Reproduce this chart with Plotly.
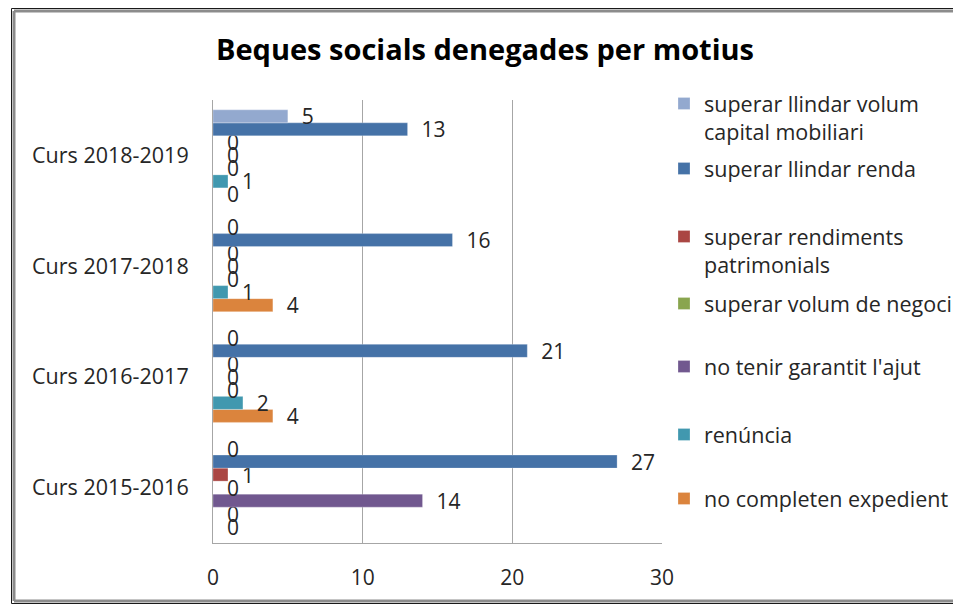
import plotly.graph_objects as go

categories = ["Curs 2015-2016", "Curs 2016-2017", "Curs 2017-2018", "Curs 2018-2019"]
series_names = [
    "superar llindar volum<br>capital mobiliari",
    "superar llindar renda",
    "superar rendiments<br>patrimonials",
    "superar volum de negoci",
    "no tenir garantit l'ajut",
    "renúncia",
    "no completen expedient",
]
capital_mobiliari = [0, 0, 0, 5]
llindar_renda = [27, 21, 16, 13]
rendiments_patrimonials = [1, 0, 0, 0]
volum_negoci = [0, 0, 0, 0]
garantit_ajut = [14, 0, 0, 0]
renuncia = [0, 2, 1, 1]
no_completen = [0, 4, 4, 0]
series_values = [capital_mobiliari, llindar_renda, rendiments_patrimonials,
                 volum_negoci, garantit_ajut, renuncia, no_completen]
colors = ["#93A9CF", "#4572A7", "#AA4643", "#89A54E", "#71588F", "#4198AF", "#DB843D"]
x_ticks = [0, 10, 20, 30]

FONT = "Open Sans"
W, H = 953, 604
L, R, T, B = 213, 662, 100, 543
pw, ph = R - L, B - T

def px_x(x):  # pixel -> paper x
    return (x - L) / pw

def px_y(y):  # pixel -> paper y
    return (B - y) / ph

legend_tops = [103, 168, 236, 303, 366, 434, 498]

fig = go.Figure()
for i in reversed(range(len(series_names))):
    lg = "legend" if i == 0 else f"legend{i+1}"
    fig.add_trace(go.Bar(
        y=categories, x=series_values[i], orientation="h",
        name=series_names[i],
        marker=dict(color=colors[i], line=dict(color="rgba(255,255,255,0.5)", width=0.5)),
        text=series_values[i],
        texttemplate="\u00a0\u00a0%{x}",
        textposition="outside", cliponaxis=False, constraintext="none",
        textfont=dict(family=FONT, size=21, color="#262626"),
        legend=lg,
    ))

layout_legends = {}
for i, ytop in enumerate(legend_tops):
    key = "legend" if i == 0 else f"legend{i+1}"
    layout_legends[key] = dict(
        x=px_x(664), y=px_y(ytop - 20), xanchor="left", yanchor="top",
        font=dict(family=FONT, size=21.5, color="#262626"),
        bgcolor="rgba(0,0,0,0)", valign="top", tracegroupgap=0,
    )

fig.update_layout(
    width=W, height=H,
    margin=dict(l=L, r=W - R, t=T, b=H - B, autoexpand=False),
    paper_bgcolor="white", plot_bgcolor="white",
    barmode="group", bargap=0.178, bargroupgap=0,
    title=dict(text="<b>Beques socials denegades per motius</b>",
               xref="container", x=485 / W, xanchor="center",
               yref="container", y=1 - 50 / H, yanchor="middle",
               font=dict(family=FONT, size=29, color="black")),
    xaxis=dict(range=[0, 30], tickvals=x_ticks, showgrid=True, gridcolor="#A6A6A6",
               gridwidth=1, zeroline=False, showline=True, linecolor="#A6A6A6",
               ticks="", ticklen=0, ticklabelstandoff=16,
               tickfont=dict(family=FONT, size=21, color="#262626"),
               fixedrange=True),
    yaxis=dict(type="category", categoryorder="array", categoryarray=categories,
               showgrid=False, zeroline=False, showline=True, linecolor="#A6A6A6",
               ticks="", ticklabelstandoff=19,
               tickfont=dict(family=FONT, size=21.5, color="#262626"),
               fixedrange=True),
    showlegend=True,
    **layout_legends,
)

# outer frame (left, top, bottom edges only; right edge lies outside the picture)
frame_lines = [
    dict(x0=14, y0=11, x1=W, y1=11, color="#8C8C8C", width=3),
    dict(x0=14, y0=11, x1=14, y1=601, color="#8C8C8C", width=3),
    dict(x0=14, y0=601, x1=W, y1=601, color="#8C8C8C", width=3),
    dict(x0=11.5, y0=8.5, x1=W, y1=8.5, color="#1A1A1A", width=1),
    dict(x0=11.5, y0=8.5, x1=11.5, y1=603.5, color="#1A1A1A", width=1),
    dict(x0=11.5, y0=603.5, x1=W, y1=603.5, color="#1A1A1A", width=1),
]
for fl in frame_lines:
    fig.add_shape(type="line", xref="paper", yref="paper",
                  x0=px_x(fl["x0"]), x1=px_x(fl["x1"]),
                  y0=px_y(fl["y0"]), y1=px_y(fl["y1"]),
                  line=dict(color=fl["color"], width=fl["width"]), layer="below")

fig.write_html(
    "out.html",
    config={"displayModeBar": False},
    post_script="document.documentElement.style.overflow='hidden';document.body.style.margin='0';document.body.style.overflow='hidden';",
)
